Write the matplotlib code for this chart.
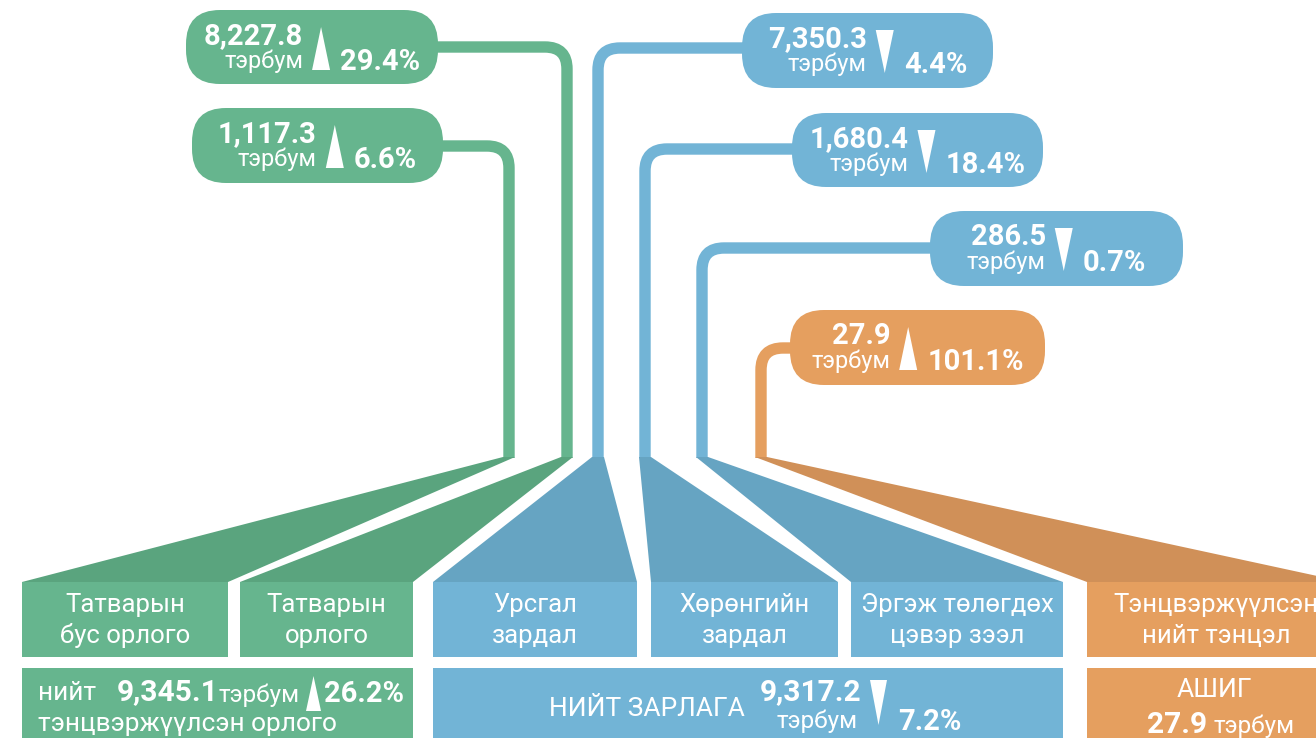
import matplotlib
matplotlib.use("Agg")
import matplotlib.pyplot as plt
from matplotlib.patches import FancyBboxPatch, Rectangle, Polygon, PathPatch
from matplotlib.path import Path

plt.rcParams['font.family'] = ['Roboto', 'DejaVu Sans']

# Budget data (billion MNT)
categories = ["Татварын\nбус орлого", "Татварын\nорлого", "Урсгал\nзардал",
              "Хөрөнгийн\nзардал", "Эргэж төлөгдөх\nцэвэр зээл", "Тэнцвэржүүлсэн\nнийт тэнцэл"]
groups = ['income', 'income', 'expense', 'expense', 'expense', 'balance']
values = [1117.3, 8227.8, 7350.3, 1680.4, 286.5, 27.9]
changes = [6.6, 29.4, -4.4, -18.4, -0.7, 101.1]

income_total, income_change = 9345.1, 26.2
expense_total, expense_change = 9317.2, -7.2
balance_total = 27.9
unit = "тэрбум"

colors = {'income': ('#66b58e', '#5aa47e'),
          'expense': ('#72b4d6', '#66a4c2'),
          'balance': ('#e59f5f', '#d09058')}

# layout (pixels)
callout_boxes = [(192, 108, 251, 75), (186, 10, 252, 74), (742, 13, 251, 75),
                 (792, 113, 251, 74), (930, 211, 253, 75), (790, 310, 255, 75)]
line_y = [146, 47, 48, 149, 248, 348]
line_x = [509, 567, 598, 645, 702, 761]
cat_x = [(22, 228), (240, 413), (433, 637), (651, 838), (851, 1063), (1087, 1345)]
funnel_top, row1_top, row1_bot, row2_top = 457, 582, 657, 668
W, H = 1316, 738

fig = plt.figure(figsize=(W / 100, H / 100), dpi=100)
ax = fig.add_axes([0, 0, 1, 1])
ax.set_xlim(0, W)
ax.set_ylim(H, 0)
ax.axis('off')
r = fig.canvas.get_renderer()


def width(t):
    return t.get_window_extent(r).width


def triangle(x0, y0, y1, up, w=18):
    if up:
        pts = [(x0, y1), (x0 + w, y1), (x0 + w / 2, y0)]
    else:
        pts = [(x0, y0), (x0 + w, y0), (x0 + w / 2, y1)]
    ax.add_patch(Polygon(pts, closed=True, color='white', lw=0, zorder=4))


for i, cat in enumerate(categories):
    light, dark = colors[groups[i]]
    bx, by, bw, bh = callout_boxes[i]
    vx, hy = line_x[i], line_y[i]
    cx = bx + bw / 2
    rad = 22
    side = -1 if cx < vx else 1
    verts = [(cx, hy), (vx + side * rad, hy), (vx, hy), (vx, hy + rad), (vx, funnel_top + 1)]
    codes = [Path.MOVETO, Path.LINETO, Path.CURVE3, Path.CURVE3, Path.LINETO]
    ax.add_patch(PathPatch(Path(verts, codes), fill=False, ec=light, lw=8.2,
                           capstyle='butt', joinstyle='round', zorder=1))

    # callout pill
    ax.add_patch(FancyBboxPatch((bx, by), bw, bh, boxstyle="round,pad=0,rounding_size=34",
                                fc=light, ec='none', zorder=2))
    num = ax.text(0, by + 34, f"{values[i]:,.1f}", fontsize=21, fontweight='bold',
                  color='white', ha='right', va='baseline', zorder=5)
    un = ax.text(0, by + 58, unit, fontsize=17, color='white', ha='right',
                 va='baseline', zorder=5)
    pct = ax.text(0, by + 60, f"{abs(changes[i]):.1f}%", fontsize=21, fontweight='bold',
                  color='white', ha='left', va='baseline', zorder=5)
    wl = max(width(num), width(un))
    total = wl + 9 + 18 + 10 + width(pct)
    xr = cx - total / 2 + wl
    num.set_x(xr)
    un.set_x(xr)
    triangle(xr + 9, by + 17, by + 60, changes[i] > 0)
    pct.set_x(xr + 37)

    # funnel and category box
    x0, x1 = cat_x[i]
    ax.add_patch(Polygon([(vx - 6, funnel_top), (vx + 6, funnel_top), (x1, row1_top), (x0, row1_top)],
                         closed=True, fc=dark, ec='none', zorder=1))
    ax.add_patch(Rectangle((x0, row1_top), x1 - x0, row1_bot - row1_top, fc=light, ec='none', zorder=2))
    ax.text((x0 + x1) / 2, (row1_top + row1_bot) / 2 + 1, cat, fontsize=18.5, color='white',
            ha='center', va='center', linespacing=1.32, zorder=5)

# totals row
g, b, o = colors['income'][0], colors['expense'][0], colors['balance'][0]
ax.add_patch(Rectangle((22, row2_top), 413 - 22, H - row2_top + 5, fc=g, ec='none', zorder=2))
ax.add_patch(Rectangle((433, row2_top), 1063 - 433, H - row2_top + 5, fc=b, ec='none', zorder=2))
ax.add_patch(Rectangle((1087, row2_top), 1345 - 1087, H - row2_top + 5, fc=o, ec='none', zorder=2))

# income total
ax.text(38, 700, "нийт", fontsize=19, color='white', ha='left', va='baseline', zorder=5)
ax.text(117, 700, f"{income_total:,.1f}", fontsize=21.5, fontweight='bold', color='white',
        ha='left', va='baseline', zorder=5)
ax.text(219, 702, unit, fontsize=17.5, color='white', ha='left', va='baseline', zorder=5)
triangle(306, 676, 711, income_change > 0, w=15)
ax.text(324, 702, f"{abs(income_change):.1f}%", fontsize=21, fontweight='bold', color='white',
        ha='left', va='baseline', zorder=5)
ax.text(38, 731, "тэнцвэржүүлсэн орлого", fontsize=19, color='white', ha='left',
        va='baseline', zorder=5)

# expense total
ax.text(647, 716, "НИЙТ ЗАРЛАГА", fontsize=19, color='white', ha='center', va='baseline', zorder=5)
ax.text(861, 700, f"{expense_total:,.1f}", fontsize=21.5, fontweight='bold', color='white',
        ha='right', va='baseline', zorder=5)
ax.text(858, 728, unit, fontsize=17.5, color='white', ha='right', va='baseline', zorder=5)
triangle(870, 680, 725, expense_change > 0, w=17)
ax.text(898, 730, f"{abs(expense_change):.1f}%", fontsize=21, fontweight='bold', color='white',
        ha='left', va='baseline', zorder=5)

# balance
ax.text(1214, 697, "АШИГ", fontsize=19, color='white', ha='center', va='baseline', zorder=5)
bn = ax.text(0, 733, f"{balance_total:,.1f}", fontsize=21.5, fontweight='bold', color='white',
             ha='left', va='baseline', zorder=5)
bu = ax.text(0, 733, unit, fontsize=17.5, color='white', ha='left', va='baseline', zorder=5)
tw = width(bn) + 7 + width(bu)
bx0 = 1221 - tw / 2
bn.set_x(bx0)
bu.set_x(bx0 + width(bn) + 7)

fig.savefig("out.png", dpi=100, facecolor='white')
